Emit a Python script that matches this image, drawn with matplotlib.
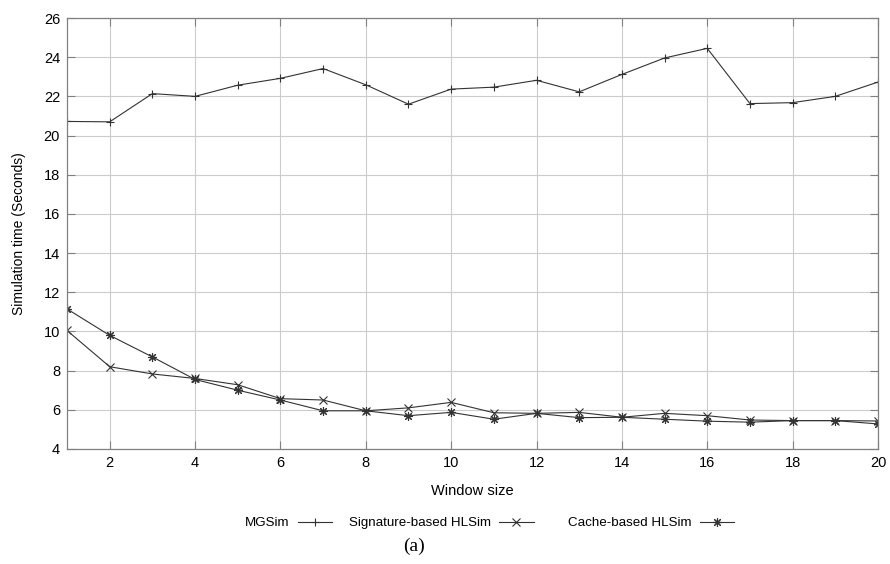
import matplotlib
matplotlib.use("Agg")
import matplotlib.pyplot as plt

# Window sizes and measured simulation times (seconds)
window_size = list(range(1, 21))
mgsim = [20.72, 20.70, 22.14, 22.00, 22.57, 22.92, 23.42, 22.59, 21.60, 22.37,
         22.47, 22.82, 22.23, 23.12, 23.96, 24.45, 21.63, 21.68, 22.00, 22.73]
signature_hlsim = [10.05, 8.20, 7.83, 7.60, 7.28, 6.57, 6.50, 5.95, 6.10, 6.38,
                   5.85, 5.82, 5.87, 5.62, 5.82, 5.70, 5.48, 5.45, 5.45, 5.43]
cache_hlsim = [11.15, 9.80, 8.70, 7.55, 7.00, 6.50, 5.95, 5.95, 5.70, 5.87,
               5.52, 5.82, 5.60, 5.62, 5.52, 5.42, 5.37, 5.45, 5.45, 5.28]

series_labels = ["MGSim", "Signature-based HLSim", "Cache-based HLSim"]
x_ticks = list(range(2, 21, 2))
y_ticks = list(range(4, 27, 2))

plt.rcParams["font.family"] = ["Liberation Sans", "DejaVu Sans"]

fig = plt.figure(figsize=(8.9, 5.64), dpi=100)
ax = fig.add_axes([67 / 890, 1 - 449 / 564, (878 - 67) / 890, (449 - 18) / 564])

asterisk = (8, 2, 0)
markers = ["+", "x", asterisk]
sizes = [6, 6, 6.5]
series = [mgsim, signature_hlsim, cache_hlsim]

handles = []
for vals, mk, ms, lab in zip(series, markers, sizes, series_labels):
    (ln,) = ax.plot(window_size, vals, color="#333333", lw=0.8, marker=mk,
                    markersize=ms, markeredgewidth=0.8, label=lab)
    handles.append(ln)

ax.set_xlim(1, 20)
ax.set_ylim(4, 26)
ax.set_xticks(x_ticks)
ax.set_yticks(y_ticks)
ax.grid(True, color="#cccccc", lw=0.8)
ax.set_axisbelow(True)
for s in ax.spines.values():
    s.set_color("#808080")
    s.set_linewidth(0.9)
ax.tick_params(direction="in", length=6, width=0.8, color="#808080",
               labelsize=10.5, top=True, right=True, pad=5)

ax.set_xlabel("Window size", fontsize=10.5, labelpad=10)
ax.set_ylabel("Simulation time (Seconds)", fontsize=10, labelpad=13)

# Legend entries laid out in a single row below the axes, text before the sample
legend_x = [245, 349, 568]
for h, lab, lx in zip(handles, series_labels, legend_x):
    fig.legend([h], [lab], loc="center left",
               bbox_to_anchor=(lx / 890, 1 - 523 / 564),
               frameon=False, markerfirst=False, fontsize=9.6,
               handlelength=2.6, handletextpad=0.6, borderpad=0,
               borderaxespad=0)

fig.text(414 / 890, 1 - 546 / 564, "(a)", ha="center", va="center",
         fontsize=14, family=["Liberation Serif", "DejaVu Serif"])

fig.savefig("out.png", dpi=100)
